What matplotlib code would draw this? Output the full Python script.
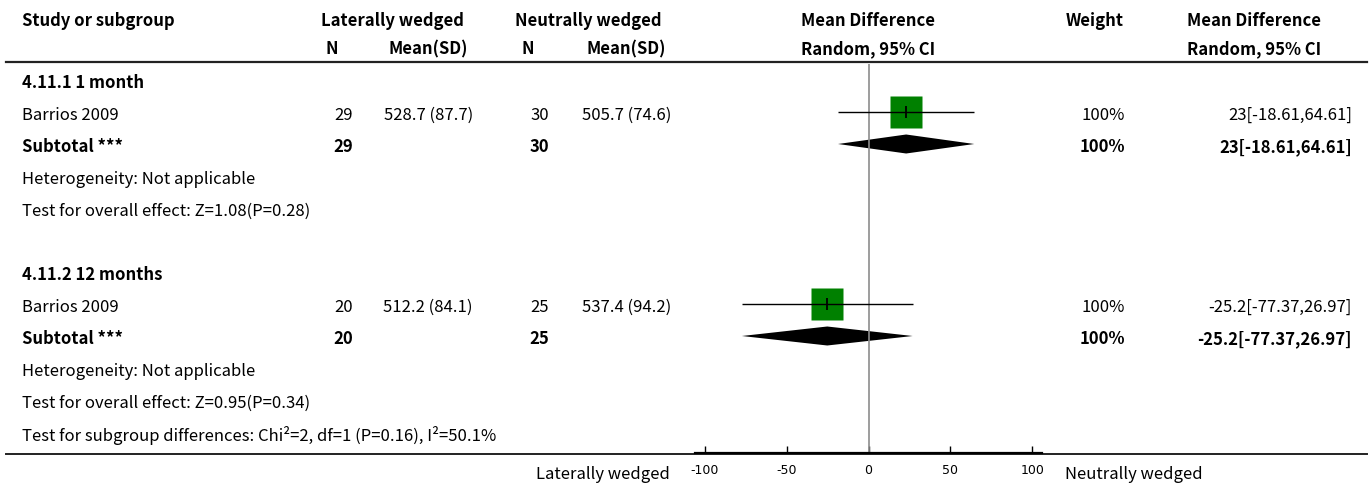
import matplotlib
matplotlib.use('Agg')
import matplotlib.pyplot as plt
from matplotlib.patches import Polygon

plt.rcParams['font.family'] = ['Noto Sans CJK SC', 'DejaVu Sans']

# 数据
group_names = ['4.11.1 1 month', '4.11.2 12 months']
study_names = ['Barrios 2009', 'Barrios 2009']
lat_n = [29, 20]
lat_mean = [528.7, 512.2]
lat_sd = [87.7, 84.1]
neu_n = [30, 25]
neu_mean = [505.7, 537.4]
neu_sd = [74.6, 94.2]
md = [23, -25.2]
md_lo = [-18.61, -77.37]
md_hi = [64.61, 26.97]
weights = ['100%', '100%']
het_text = ['Heterogeneity: Not applicable', 'Heterogeneity: Not applicable']
overall_text = ['Test for overall effect: Z=1.08(P=0.28)',
                'Test for overall effect: Z=0.95(P=0.34)']
subgroup_text = 'Test for subgroup differences: Chi\u00b2=2, df=1 (P=0.16), I\u00b2=50.1%'
x_ticks = [-100, -50, 0, 50, 100]
left_label = 'Laterally wedged'
right_label = 'Neutrally wedged'

W, H = 1370, 486
fig = plt.figure(figsize=(W / 100, H / 100), dpi=100)

# 文字布局用的坐标系（像素）
ax = fig.add_axes([0, 0, 1, 1])
ax.set_xlim(0, W)
ax.set_ylim(H, 0)
ax.axis('off')

# 森林图坐标系
axis_y = 453
fa = fig.add_axes([695 / W, (H - axis_y) / H, 347 / W, axis_y / H])
fa.set_xlim(-106, 106)
fa.set_ylim(axis_y, 0)
fa.patch.set_alpha(0)
for s in ['top', 'left', 'right']:
    fa.spines[s].set_visible(False)
fa.spines['bottom'].set_linewidth(1.6)
fa.set_yticks([])
fa.set_xticks(x_ticks)
fa.set_xticklabels([str(t) for t in x_ticks], family='DejaVu Sans', fontsize=9)
fa.tick_params(axis='x', direction='in', length=5, width=1, pad=8)

fs = 12
dt = 2  # 文字的垂直微调


def txt(x, y, s, **kw):
    kw.setdefault('va', 'center')
    ax.text(x, y + dt, s, fontsize=fs, **kw)


def row_y(r):
    return 81 + 32 * r


# 表头
txt(22, 19, 'Study or subgroup', weight='bold')
txt(392, 19, 'Laterally wedged', weight='bold', ha='center')
txt(588, 19, 'Neutrally wedged', weight='bold', ha='center')
txt(868, 19, 'Mean Difference', weight='bold', ha='center')
txt(1095, 19, 'Weight', weight='bold', ha='center')
txt(1254, 19, 'Mean Difference', weight='bold', ha='center')
txt(332, 47, 'N', weight='bold', ha='center')
txt(428, 47, 'Mean(SD)', weight='bold', ha='center')
txt(528, 47, 'N', weight='bold', ha='center')
txt(626, 47, 'Mean(SD)', weight='bold', ha='center')
txt(868, 47, 'Random, 95% CI', weight='bold', ha='center')
txt(1254, 47, 'Random, 95% CI', weight='bold', ha='center')
ax.plot([6, 1367], [62, 62], color='#222222', lw=1.6)
ax.plot([6, 1367], [axis_y + 1, axis_y + 1], color='#222222', lw=1.4)

# 零线
fa.vlines(0, 64, axis_y, color='#8c8c8c', lw=1.2)

for i in range(len(group_names)):
    base = i * 6
    txt(22, row_y(base), group_names[i], weight='bold')

    y = row_y(base + 1)
    txt(22, y, study_names[i])
    txt(353, y, str(lat_n[i]), ha='right')
    txt(473, y, f'{lat_mean[i]} ({lat_sd[i]})', ha='right')
    txt(549, y, str(neu_n[i]), ha='right')
    txt(671, y, f'{neu_mean[i]} ({neu_sd[i]})', ha='right')
    txt(1125, y, weights[i], ha='right')
    txt(1352, y, f'{md[i]:g}[{md_lo[i]:g},{md_hi[i]:g}]', ha='right')
    fa.plot([md[i]], [y - 1], marker='s', ms=22.5, color='#008000', mec='none', ls='none')
    fa.hlines(y - 1, md_lo[i], md_hi[i], color='black', lw=1)
    fa.plot([md[i]], [y - 1], marker='|', ms=8, mew=1.3, color='black', ls='none')

    y = row_y(base + 2)
    txt(22, y, 'Subtotal ***', weight='bold')
    txt(353, y, str(lat_n[i]), weight='bold', ha='right')
    txt(549, y, str(neu_n[i]), weight='bold', ha='right')
    txt(1125, y, weights[i], weight='bold', ha='right')
    txt(1352, y, f'{md[i]:g}[{md_lo[i]:g},{md_hi[i]:g}]', weight='bold', ha='right')
    dy = 9.5
    fa.add_patch(Polygon([(md_lo[i], y - 1), (md[i], y - 1 - dy), (md_hi[i], y - 1), (md[i], y - 1 + dy)],
                         closed=True, color='black', lw=0))

    txt(22, row_y(base + 3), het_text[i])
    txt(22, row_y(base + 4), overall_text[i])

txt(22, row_y(11), subgroup_text)

txt(670, 472, left_label, ha='right')
txt(1065, 472, right_label, ha='left')

fig.savefig('out.png', dpi=100)
